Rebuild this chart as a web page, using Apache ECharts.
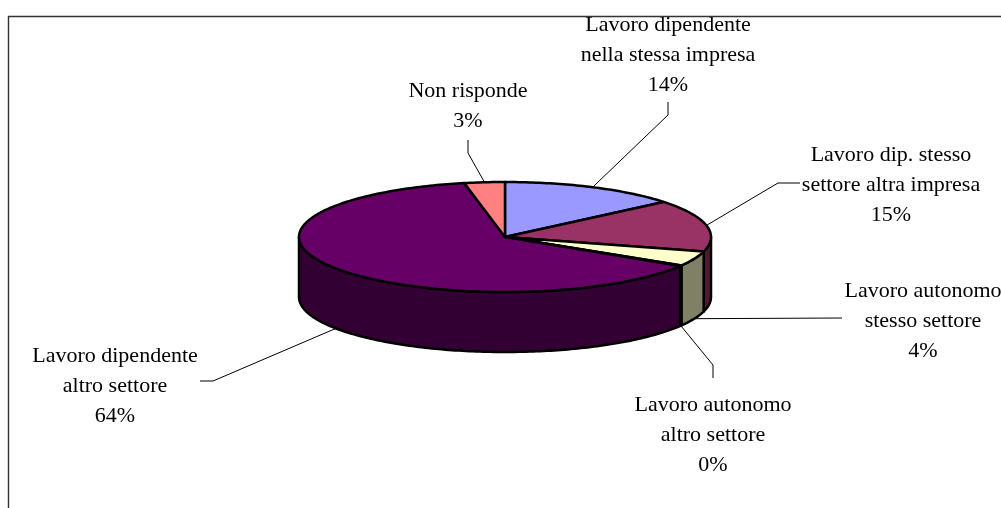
<!DOCTYPE html>
<html><head><meta charset="utf-8">
<style>html,body{margin:0;padding:0;background:#fff;overflow:hidden}#c{width:1001px;height:508px}</style>
<script src="https://cdn.jsdelivr.net/npm/echarts@6/dist/echarts.min.js"></script>
</head><body><div id="c"></div>
<script>
const categories = ["Lavoro dipendente\nnella stessa impresa","Lavoro dip. stesso\nsettore altra impresa","Lavoro autonomo\nstesso settore","Lavoro autonomo\naltro settore","Lavoro dipendente\naltro settore","Non risponde"];
const values = [14.1,15.4,4.4,0.2,63.5,3.2];
const topColors = ["#9999FF","#993366","#FFFFCC","#CCFFFF","#660066","#FF8080"];
const sideColors = ["#4D4D80","#4D1A33","#808066","#668080","#330033","#804040"];
// Layout only: label centres and leader elbows
const labelPos = [[668,25],[891,155],[923,291],[713,405],[115,356],[468,91]];
const leaderEnds = [[[668,115],[668,102]],[[778,183],[800,183]],[[842,318]],[[713,365],[713,378]],[[213,381],[200,381]],[[468,153],[468,140]]];
const leaderOnWall = [false,false,true,true,true,false];
const CX=505, CY=237, RX=206, RY=55, DEPTH=60, LH=30.3;

const total = values.reduce((a,b)=>a+b,0);
const starts=[]; let acc=0; values.forEach(v=>{starts.push(acc/total*360); acc+=v;});
const pt=(deg,dy=0)=>{const t=deg*Math.PI/180;return [CX+RX*Math.sin(t),CY-RY*Math.cos(t)+dy];};

function topItem(params,api){
  const i=params.dataIndex, a=starts[i], b=a+api.value(0)/total*360;
  const pts=[[CX,CY]];
  const n=Math.max(2,Math.ceil(b-a)+1);
  for(let k=0;k<=n;k++) pts.push(pt(a+(b-a)*k/n));
  return {type:'polygon',shape:{points:pts},style:{fill:topColors[i],stroke:'#000',lineWidth:2.5,lineJoin:'round'}};
}
function sideItem(params,api){
  const i=params.dataIndex, a=Math.max(starts[i],90), b=Math.min(starts[i]+api.value(0)/total*360,270);
  if(b<a) return null;
  const up=[],lo=[]; const n=Math.max(2,Math.ceil(b-a)+1);
  for(let k=0;k<=n;k++){const d=a+(b-a)*k/n; up.push(pt(d)); lo.unshift(pt(d,DEPTH));}
  return {type:'polygon',shape:{points:up.concat(lo)},style:{fill:sideColors[i],stroke:'#000',lineWidth:2.5,lineJoin:'round'}};
}
function labelItem(params,api){
  const i=params.dataIndex, mid=starts[i]+api.value(0)/total*180;
  const anchor=pt(mid,leaderOnWall[i]?DEPTH:0);
  return {type:'group',children:[
    {type:'polyline',shape:{points:[anchor].concat(leaderEnds[i])},style:{fill:null,stroke:'#000',lineWidth:1}},
    {type:'text',x:labelPos[i][0],y:labelPos[i][1]-LH/2,style:{
      text:categories[i]+"\n"+Math.round(api.value(0))+"%",
      fill:'#000',font:'22px "Liberation Serif"',align:'center',verticalAlign:'top',lineHeight:LH}}
  ]};
}
const chart=echarts.init(document.getElementById('c'),null,{renderer:'canvas'});
const data=values.map(v=>[v]);
chart.setOption({
  animation:false,
  backgroundColor:'#fff',
  graphic:[
    {type:'polyline',z:0,shape:{points:[[8.5,508],[8.5,16.5],[1001,16.5]]},style:{fill:null,stroke:'#333',lineWidth:1.4}}
  ],
  series:[
    {type:'custom',coordinateSystem:'none',data,renderItem:sideItem,z:2,silent:true},
    {type:'custom',coordinateSystem:'none',data,renderItem:topItem,z:3,silent:true},
    {type:'custom',coordinateSystem:'none',data,renderItem:labelItem,z:4,silent:true}
  ]
});
</script></body></html>
